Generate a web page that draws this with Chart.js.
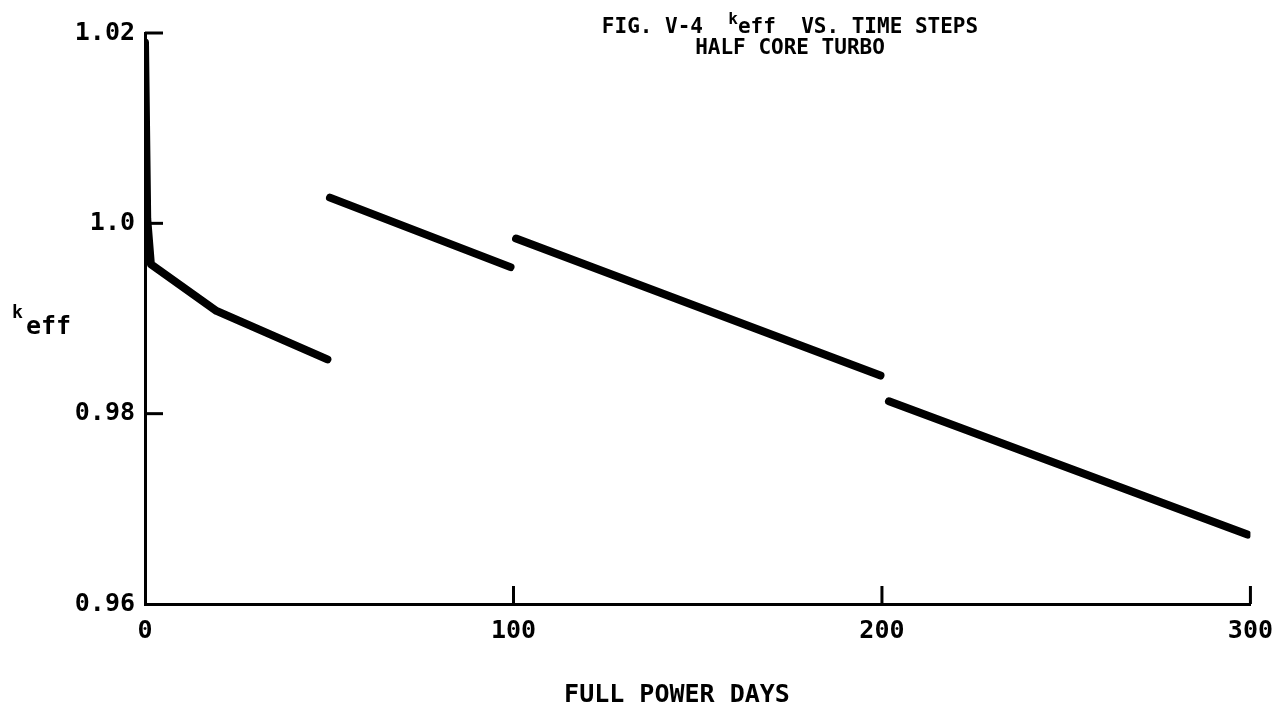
<!DOCTYPE html>
<html>
<head>
<meta charset="utf-8">
<title>keff vs. time steps</title>
<script src="https://cdn.jsdelivr.net/npm/chart.js@4"></script>
<style>
  html, body { margin: 0; padding: 0; background: #fff; }
  #wrap { width: 1285px; height: 724px; }
</style>
</head>
<body>
<div id="wrap"><canvas id="keff"></canvas></div>
<script>
// k-eff over full power days, one segment per burnup cycle
var seg1_days = [0, 0.6, 1.6, 19.4, 49.5];
var seg1_keff = [1.019, 1.0005, 0.9957, 0.9908, 0.9857];
var seg2_days = [50.2, 99.2];
var seg2_keff = [1.0027, 0.9954];
var seg3_days = [100.7, 199.6];
var seg3_keff = [0.9984, 0.984];
var seg4_days = [201.9, 299.2];
var seg4_keff = [0.9813, 0.9673];

var x_ticks = [0, 100, 200, 300];
var y_ticks = [0.96, 0.98, 1.0, 1.02];

var MONO = "'DejaVu Sans Mono', 'Liberation Mono', monospace";

function toPoints(days, keff) {
  return days.map(function (d, i) {
    return { x: d, y: keff[i] };
  });
}

function segment(days, keff) {
  return {
    data: toPoints(days, keff),
    borderColor: "#000",
    borderWidth: 8,
    borderCapStyle: "round",
    borderJoinStyle: "round",
    pointRadius: 0,
    fill: false,
    tension: 0,
  };
}

// inward tick marks plus the typed titles
var paperMarks = {
  id: "paperMarks",
  afterDraw: function (chart) {
    var ctx = chart.ctx;
    var xs = chart.scales.x;
    var ys = chart.scales.y;
    var area = chart.chartArea;
    ctx.save();
    ctx.strokeStyle = "#000";
    ctx.lineWidth = 3;
    ctx.lineCap = "butt";
    y_ticks.forEach(function (v) {
      if (v === y_ticks[0]) return;
      var py = ys.getPixelForValue(v);
      ctx.beginPath();
      ctx.moveTo(area.left, py);
      ctx.lineTo(area.left + 18, py);
      ctx.stroke();
    });
    x_ticks.forEach(function (v) {
      if (v === x_ticks[0]) return;
      var px = xs.getPixelForValue(v);
      ctx.beginPath();
      ctx.moveTo(px, area.bottom);
      ctx.lineTo(px, area.bottom - 18);
      ctx.stroke();
    });

    ctx.fillStyle = "#000";
    ctx.textBaseline = "alphabetic";
    ctx.textAlign = "left";

    // title line 1: FIG. V-4  keff  VS. TIME STEPS
    var big = "bold 21px " + MONO;
    var small = "bold 16px " + MONO;
    var parts = [
      { t: "FIG. V-4  ", f: big, dy: 0 },
      { t: "k", f: small, dy: -9 },
      { t: "eff", f: big, dy: 0 },
      { t: "  VS. TIME STEPS", f: big, dy: 0 },
    ];
    var total = 0;
    parts.forEach(function (p) {
      ctx.font = p.f;
      p.w = ctx.measureText(p.t).width;
      total += p.w;
    });
    var cx = 790;
    var x = cx - total / 2;
    parts.forEach(function (p) {
      ctx.font = p.f;
      ctx.fillText(p.t, x, 33 + p.dy);
      x += p.w;
    });
    ctx.font = big;
    ctx.textAlign = "center";
    ctx.fillText("HALF CORE TURBO", cx, 54);

    // y axis label keff
    ctx.textAlign = "left";
    ctx.font = "bold 18px " + MONO;
    ctx.fillText("k", 12, 318);
    ctx.font = "bold 25px " + MONO;
    ctx.fillText("eff", 26, 334);

    // x axis label
    ctx.textAlign = "center";
    ctx.font = "bold 25px " + MONO;
    ctx.fillText("FULL POWER DAYS", 677, 702);
    ctx.restore();
  },
};

var ctx = document.getElementById("keff").getContext("2d");
var myChart = new Chart(ctx, {
  type: "line",
  data: {
    datasets: [
      segment(seg1_days, seg1_keff),
      segment(seg2_days, seg2_keff),
      segment(seg3_days, seg3_keff),
      segment(seg4_days, seg4_keff),
    ],
  },
  options: {
    responsive: true,
    maintainAspectRatio: false,
    animation: false,
    layout: { padding: { left: 0, top: 33, right: 33, bottom: 0 } },
    plugins: {
      legend: { display: false },
      title: { display: false },
      tooltip: { enabled: false },
    },
    scales: {
      x: {
        type: "linear",
        min: 0,
        max: 300,
        afterFit: function (scale) {
          scale.height = 120;
        },
        afterBuildTicks: function (scale) {
          scale.ticks = x_ticks.map(function (v) {
            return { value: v };
          });
        },
        grid: { display: false, drawTicks: false },
        border: { display: true, color: "#000", width: 3 },
        ticks: {
          color: "#000",
          padding: 12,
          maxRotation: 0,
          font: { family: MONO, size: 25, weight: "bold" },
        },
      },
      y: {
        type: "linear",
        min: 0.96,
        max: 1.02,
        afterFit: function (scale) {
          scale.width = 145;
        },
        afterBuildTicks: function (scale) {
          scale.ticks = y_ticks.map(function (v) {
            return { value: v };
          });
        },
        grid: { display: false, drawTicks: false },
        border: { display: true, color: "#000", width: 3 },
        ticks: {
          color: "#000",
          padding: 10,
          font: { family: MONO, size: 25, weight: "bold" },
          callback: function (v) {
            return Math.abs(v - 1) < 1e-9 ? "1.0" : v.toFixed(2);
          },
        },
      },
    },
  },
  plugins: [paperMarks],
});
</script>
</body>
</html>
